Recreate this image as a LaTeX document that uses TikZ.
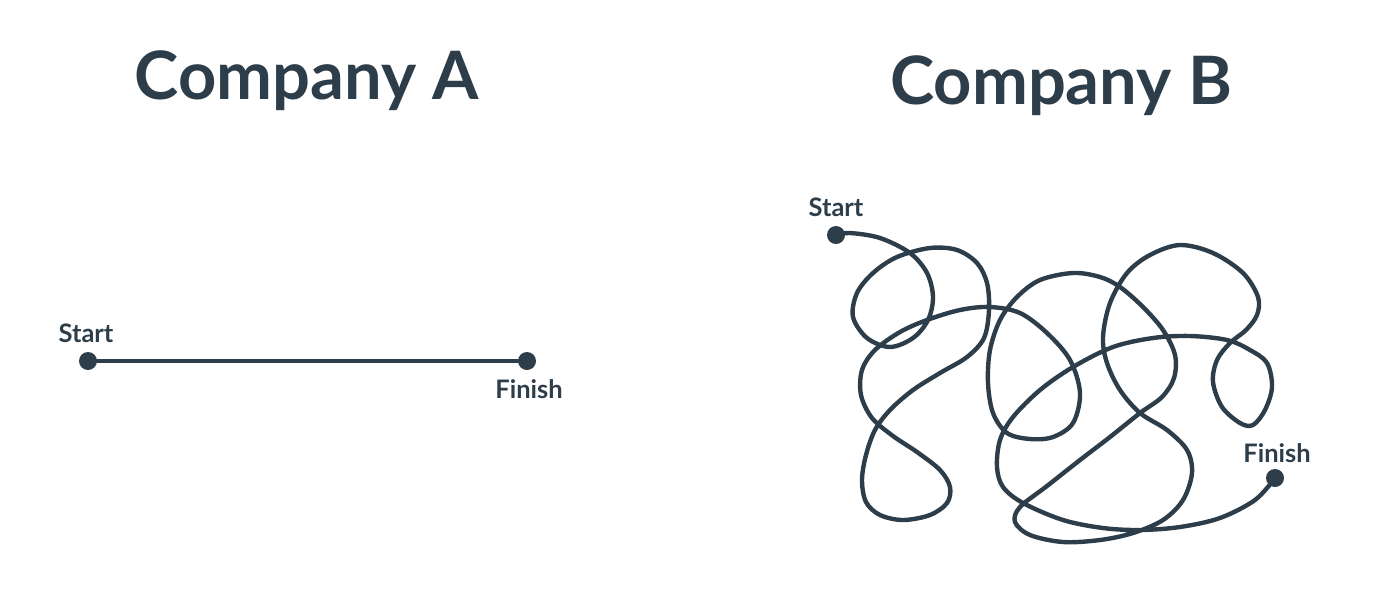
\documentclass[tikz,border=0pt]{standalone}
\usepackage{fontspec}
\setmainfont{Lato}
\usetikzlibrary{positioning}
\definecolor{slate}{RGB}{45,62,74}

\begin{document}
\begin{tikzpicture}[
    x=0.02cm, y=-0.02cm,
    title/.style={font=\fontsize{38}{42}\selectfont\bfseries, text=slate, inner sep=0pt, anchor=base},
    lbl/.style={font=\fontsize{14.5}{16}\selectfont\bfseries, text=slate, inner sep=0pt},
    dot/.style={circle, fill=slate, inner sep=0pt, minimum size=0.36cm},
    path/.style={draw=slate, line width=2.5pt, line cap=round, line join=round}
]
\useasboundingbox (0,0) rectangle (1400,603);

% Titles
\node[title] (titleA) at (307,99) {Company A};
\node[title] (titleB) at (1061,104) {Company B};

% Company A: straight line
\node[dot] (startA) at (88,361) {};
\node[dot] (finishA) at (527,361) {};
\node[lbl, above=0.38cm of startA.center, anchor=base, xshift=-0.04cm] (startAlbl) {Start};
\node[lbl, below=0.74cm of finishA.center, anchor=base, xshift=0.04cm] (finishAlbl) {Finish};
\draw[path] (startA) -- (finishA);

% Company B: tangled line
\node[dot] (startB) at (836,235) {};
\node[dot] (finishB) at (1275,478) {};
\node[lbl, above=0.38cm of startB.center, anchor=base] (startBlbl) {Start};
\node[lbl, above=0.32cm of finishB.center, anchor=base, xshift=0.04cm] (finishBlbl) {Finish};
\draw[path] plot[smooth, tension=0.55] coordinates {
    (startB.center) (850,233) (880,238) (910,253) (927,273) (933,297) (928,320)
    (913,338) (890,347) (867,338) (853,317) (857,293) (873,273) (897,257)
    (930,248) (957,250) (977,263) (987,283) (989,310) (984,338) (967,357)
    (940,373) (913,390) (890,410) (875,430) (866,455) (862,480) (866,502)
    (880,515) (903,520) (930,515) (947,503) (950,487) (940,470) (917,452)
    (893,436) (872,418) (861,395) (862,370) (875,350) (900,332) (927,320)
    (960,310) (990,307) (1020,313) (1047,333) (1070,360) (1080,393) (1073,423)
    (1053,437) (1030,439) (1007,433) (993,413) (988,383) (990,350) (1000,320)
    (1017,297) (1040,280) (1073,273) (1100,277) (1120,287) (1143,307) (1163,330)
    (1175,355) (1174,378) (1162,397) (1140,413) (1110,437) (1080,460) (1047,486)
    (1020,507) (1015,522) (1030,535) (1063,542) (1100,540) (1133,533) (1163,520)
    (1183,500) (1192,473) (1187,450) (1167,430) (1140,413) (1120,390) (1107,363)
    (1103,337) (1110,303) (1127,273) (1150,255) (1180,245) (1213,253) (1243,273)
    (1258,297) (1257,315) (1246,330) (1230,343) (1217,360) (1213,382) (1222,407)
    (1240,423) (1253,425) (1265,410) (1272,387) (1267,363) (1250,350) (1227,340)
    (1190,336) (1153,338) (1113,347) (1073,367) (1040,390) (1013,417) (1000,440)
    (997,467) (1003,487) (1023,503) (1063,520) (1103,528) (1140,530) (1180,527)
    (1220,518) (1255,500) (finishB.center)
};

\end{tikzpicture}
\end{document}
